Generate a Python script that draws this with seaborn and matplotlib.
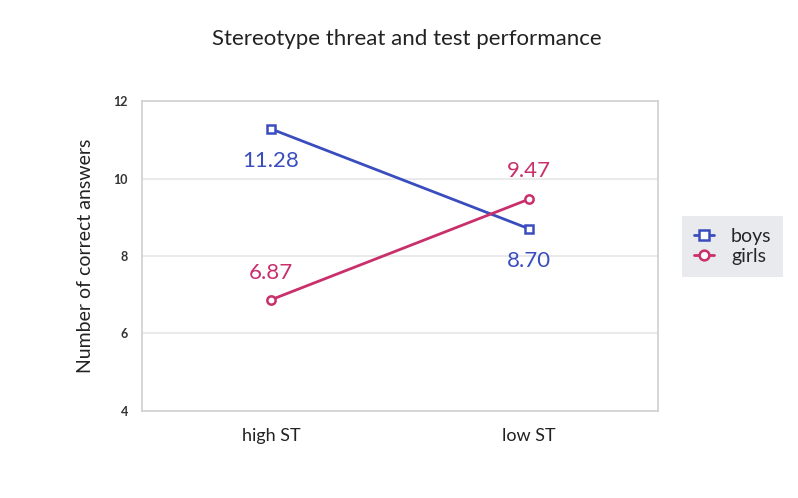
import pandas as pd
import numpy as np
import matplotlib.pyplot as plt
import seaborn as sns

conditions = ['high ST', 'low ST']
boys = [11.28, 8.70]
girls = [6.87, 9.47]
colors = {'boys': '#3a4dbf', 'girls': '#c92f6b'}

df = pd.DataFrame({
    'condition': conditions * 2,
    'score': boys + girls,
    'group': ['boys'] * 2 + ['girls'] * 2,
})

sns.set_style('white')
plt.rcParams['font.family'] = ['Lato', 'DejaVu Sans']

fig = plt.figure(figsize=(7.98, 4.98), dpi=100)
ax = fig.add_axes([0.178, 0.175, 0.647, 0.622])

sns.pointplot(data=df, x='condition', y='score', hue='group', palette=colors,
              markers=['s', 'o'], markersize=6, linewidth=2, ax=ax, legend=False)
for line in ax.lines:
    line.set_markerfacecolor('white')
    line.set_markeredgewidth(1.8)

ax.set_xlim(-0.5, 1.5)
ax.set_ylim(4, 12)
ax.set_yticks([4, 6, 8, 10, 12])
ax.set_yticklabels(['4', '6', '8', '10', '12'], fontsize=9, fontweight='bold', color='#333333')
ax.tick_params(axis='x', labelsize=13, colors='#222222', pad=12, length=0)
ax.tick_params(axis='y', length=0, pad=10)
ax.yaxis.grid(True, color='#e6e6e6', linewidth=1.2)
for s in ax.spines.values():
    s.set_color('#d0d0d0')
    s.set_linewidth(1.2)
ax.set_xlabel('')
ax.set_ylabel('Number of correct answers', fontsize=14, color='#222222', labelpad=14)

# value labels
offsets = {('boys', 0): -23, ('boys', 1): -23, ('girls', 0): 19, ('girls', 1): 20}
for grp, vals in [('boys', boys), ('girls', girls)]:
    for i, v in enumerate(vals):
        ax.annotate(f'{v:.2f}', (i, v), xytext=(0, offsets[(grp, i)]), textcoords='offset points',
                    ha='center', va='center', fontsize=16, color=colors[grp])

handles = [plt.Line2D([], [], color=colors[g], marker=m, markerfacecolor='white',
                      markeredgewidth=1.8, markersize=7, linewidth=2)
           for g, m in [('boys', 's'), ('girls', 'o')]]
leg = fig.legend(handles, ['boys', 'girls'], loc='center left', bbox_to_anchor=(0.843, 0.505),
                 fontsize=14, frameon=True, fancybox=False, handlelength=1.0,
                 handletextpad=0.9, labelspacing=0.15, borderpad=0.6)
leg.get_frame().set_facecolor('#e3e5ea')
leg.get_frame().set_edgecolor('none')

fig.text(0.51, 0.922, 'Stereotype threat and test performance', ha='center', va='center',
         fontsize=16, color='#222222')

fig.savefig('out.png', dpi=100)
